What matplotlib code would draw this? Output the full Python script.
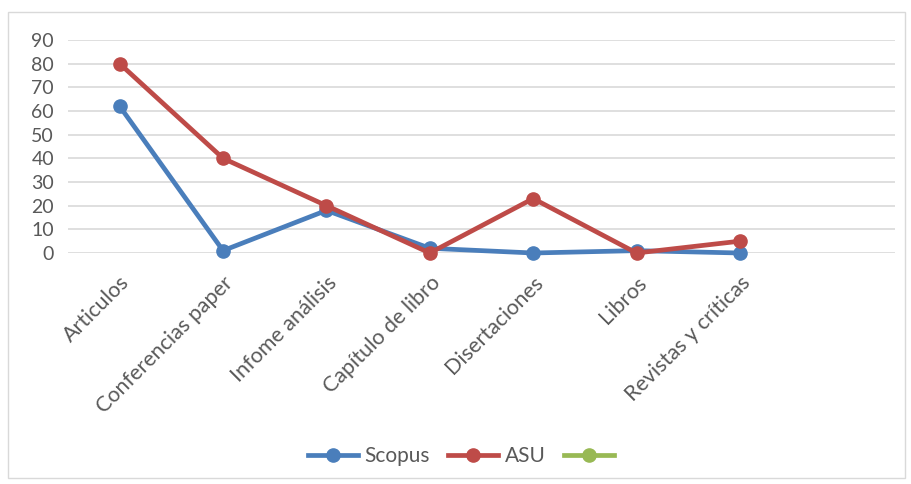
import matplotlib.pyplot as plt
from matplotlib.patches import Rectangle

# data
categories = ['Articulos', 'Conferencias paper', 'Infome análisis', 'Capítulo de libro',
              'Disertaciones', 'Libros', 'Revistas y críticas']
scopus = [62, 1, 18, 2, 0, 1, 0]
asu = [80, 40, 20, 0, 23, 0, 5]
yticks = [0, 10, 20, 30, 40, 50, 60, 70, 80, 90]

blue = '#4A7EBB'
red = '#BE4B48'
green = '#98B954'
grey = '#595959'

plt.rcParams['font.family'] = ['Lato', 'DejaVu Sans']

fig = plt.figure(figsize=(9.12, 4.84), dpi=100)
ax = fig.add_axes([68 / 912, 1 - 253 / 484, (895 - 68) / 912, (253 - 40) / 484])

x = list(range(len(categories)))
l1, = ax.plot(x, scopus, color=blue, lw=3.4, marker='o', ms=9.5, clip_on=False, zorder=3)
l2, = ax.plot(x, asu, color=red, lw=3.4, marker='o', ms=9.5, clip_on=False, zorder=4)
l3, = ax.plot([], [], color=green, lw=3.4, marker='o', ms=9.5)

ax.set_xlim(-0.5, 7.5)
ax.set_ylim(0, 90)
ax.set_yticks(yticks)
ax.set_yticklabels([str(v) for v in yticks], fontsize=14, color=grey)
ax.set_xticks(x)
ax.set_xticklabels(categories, rotation=45, ha='right', rotation_mode='anchor',
                   fontsize=15.5, color=grey)
ax.tick_params(length=0, pad=10)
ax.tick_params(axis='x', pad=14)
ax.grid(axis='y', color='#D9D9D9', lw=1.2)
ax.set_axisbelow(True)
for s in ax.spines.values():
    s.set_visible(False)

leg = ax.legend([l1, l2, l3], ['Scopus', 'ASU', ' '], loc='center',
                bbox_to_anchor=(467 / 912, 1 - 456 / 484), bbox_transform=fig.transFigure,
                ncol=3, frameon=False, fontsize=15, handlelength=2.4, columnspacing=0.9,
                handletextpad=0.3, labelcolor=grey)

fig.patches.append(Rectangle((8 / 912, 1 - 478 / 484), 897 / 912, 466 / 484,
                             transform=fig.transFigure, fill=False, ec='#D9D9D9', lw=1))

fig.savefig('out.png', dpi=100, facecolor='white')
